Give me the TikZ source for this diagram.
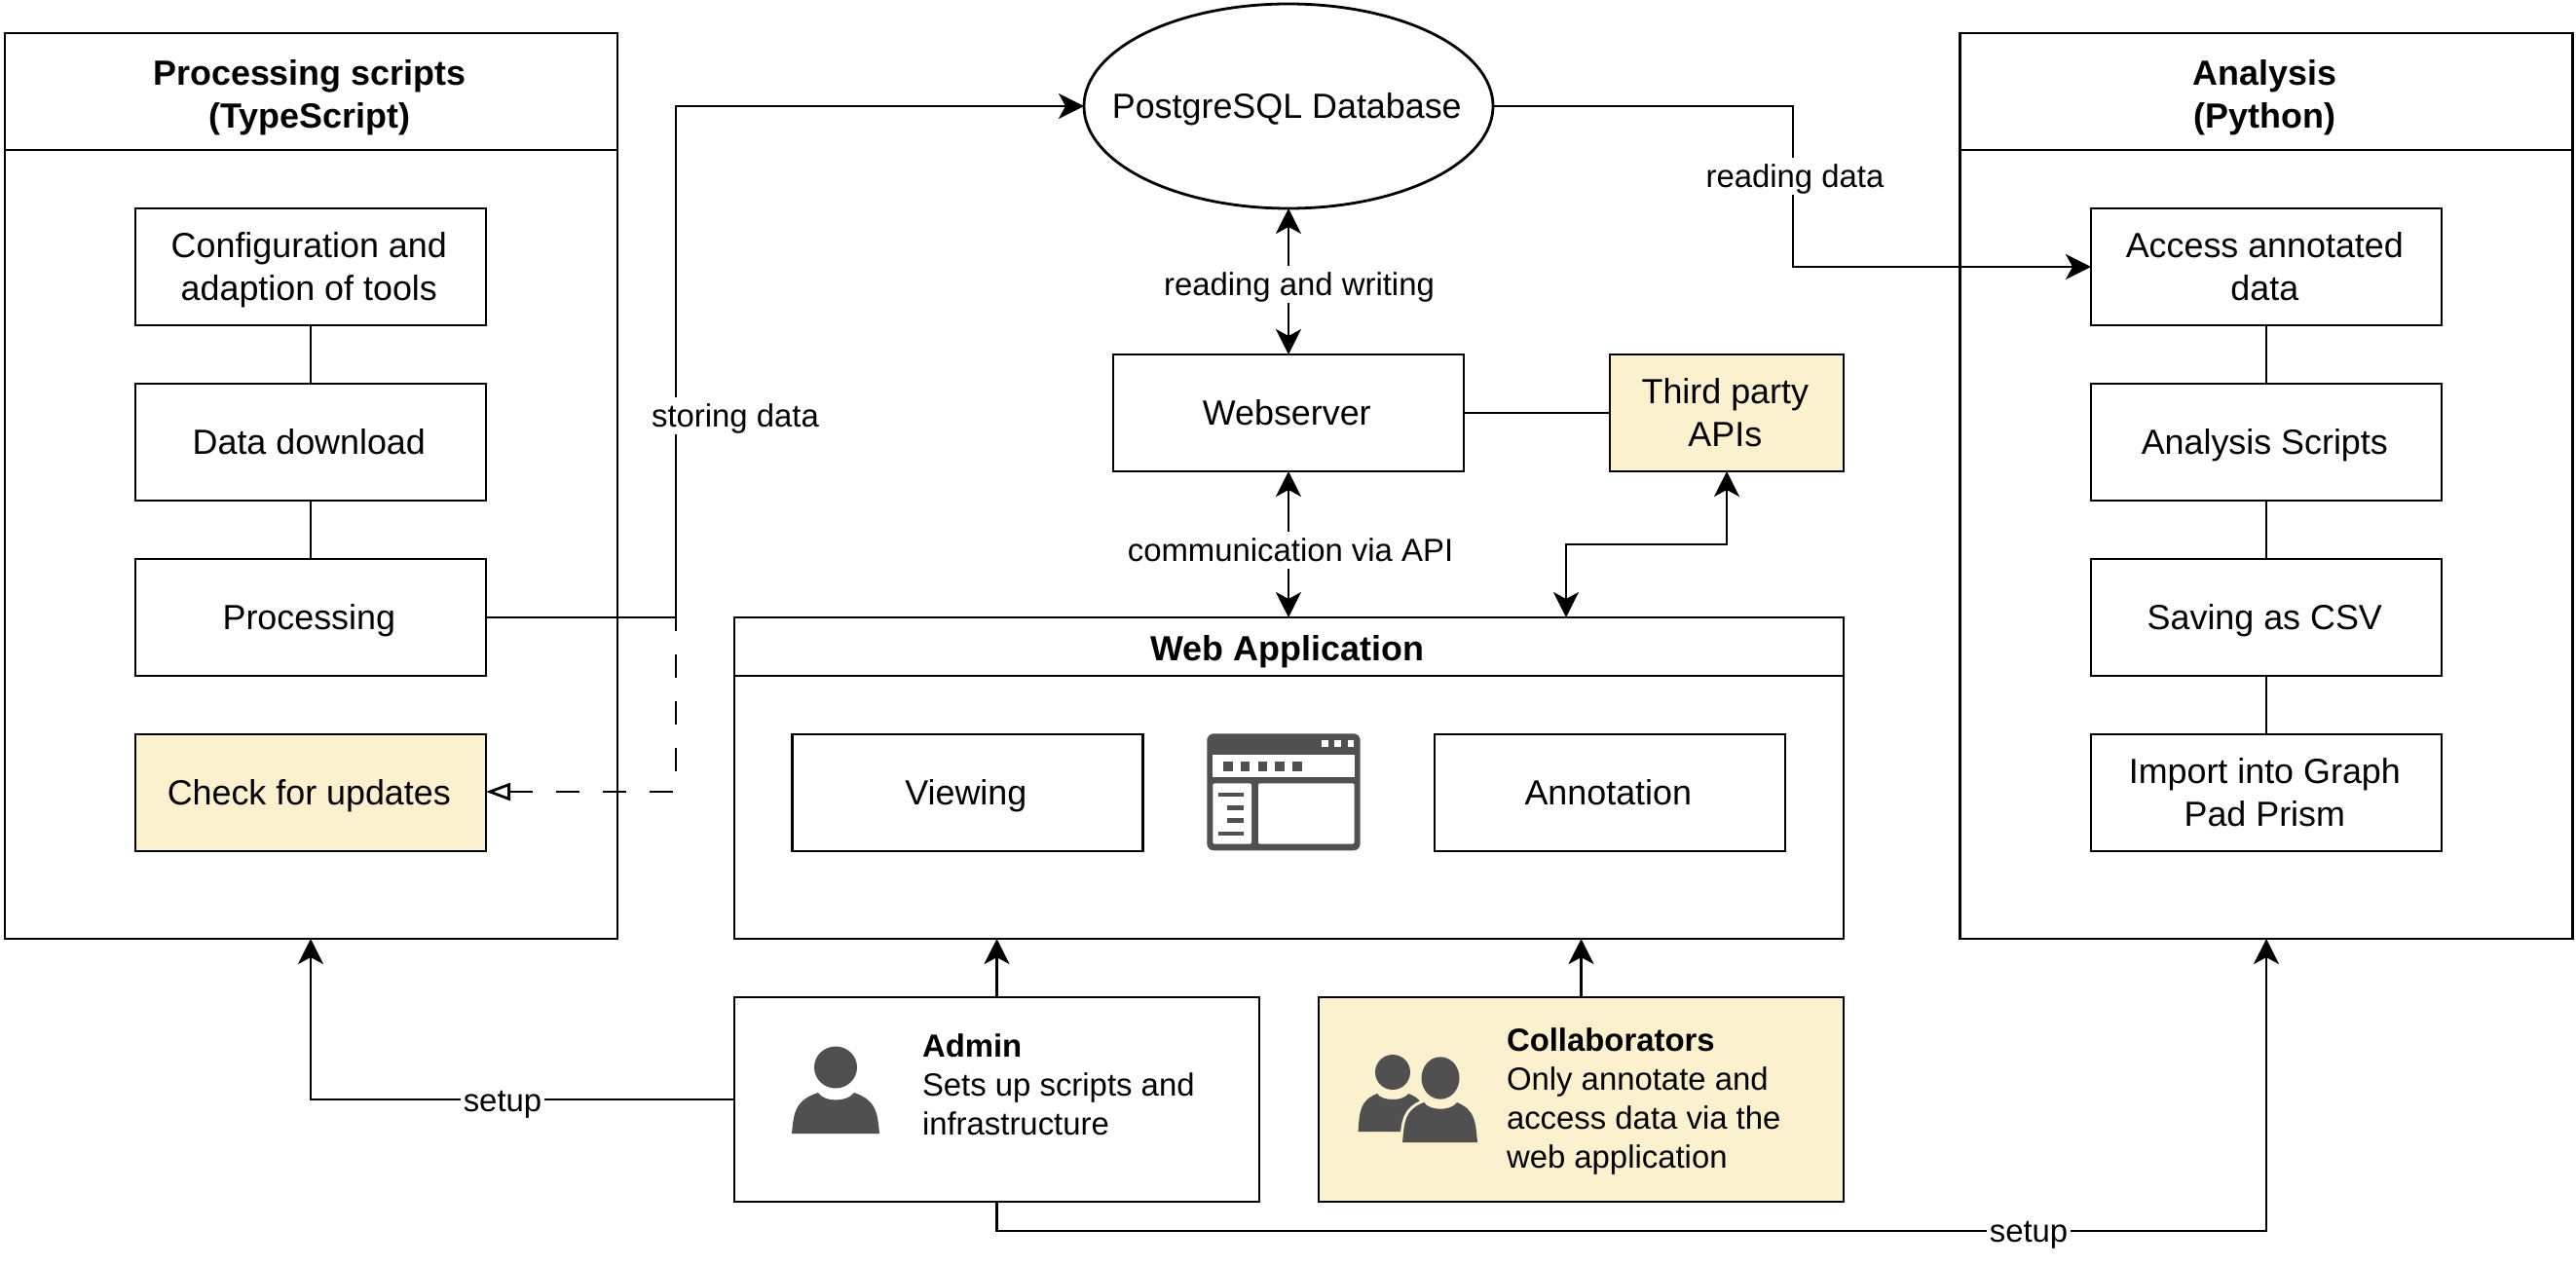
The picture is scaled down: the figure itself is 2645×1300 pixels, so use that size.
\documentclass[tikz,border=0pt]{standalone}
\usepackage{fontspec}
\setmainfont{Liberation Sans}
\usetikzlibrary{shapes.geometric,arrows.meta}
\definecolor{noteyellow}{HTML}{FBF1CE}
\definecolor{icongray}{HTML}{505050}
\newcommand{\bigtxt}{\fontsize{18}{22.4}\selectfont}
\newcommand{\smalltxt}{\fontsize{16.5}{20}\selectfont}
\newcommand{\ts}{\rule[-0.212em]{0pt}{1.117em}}
\newcommand{\tb}{\ts\hspace*{-1.7bp}}
\newcommand{\tbx}[1]{\rule[-0.212em]{0pt}{\dimexpr1.117em+#1\relax}\hspace*{-1.7bp}}
\tikzset{
  x=0.5bp,y=-0.5bp,
  base/.style={draw=black,line width=1.4bp,inner sep=0pt,outer sep=0pt,align=center,font=\bigtxt},
  stepbox/.style={base,fill=white,minimum width=180bp,minimum height=60bp},
  notebox/.style={stepbox,fill=noteyellow},
  frame/.style={base,fill=white,minimum width=314.5bp,minimum height=465bp},
  framehead/.style={base,fill=white,minimum width=314.5bp,minimum height=60bp,font=\bigtxt\bfseries},
  conn/.style={draw=black,line width=1.4bp,line join=miter},
  tip/.style={-{Stealth[length=13bp,width=13bp,inset=3.5bp]}},
  bitip/.style={{Stealth[length=13bp,width=13bp,inset=3.5bp]}-{Stealth[length=13bp,width=13bp,inset=3.5bp]}},
  lab/.style={fill=white,inner xsep=1.5bp,inner ysep=0.5bp,font=\smalltxt,text=black},
  rolebox/.style={base,minimum width=269.5bp,minimum height=105bp},
  roletext/.style={inner sep=0pt,outer sep=0pt,anchor=west,align=left,font=\smalltxt},
  icon/.style={fill=icongray,draw=none},
  hole/.style={fill=white,draw=none},
}
\begin{document}
\begin{tikzpicture}
\useasboundingbox (0,0) rectangle (2645,1300);
\fill[white] (0,0) rectangle (2645,1300);

% left frame
\node[frame] (leftframe) at (319.5,499) {};
\node[framehead] (lefthead) at (319.5,94) {\tbx{3bp}Processing scripts\\\tb (TypeScript)};
\node[stepbox] (conf) at (319,274) {\tb Configuration and\\\tb adaption of tools};
\node[stepbox] (down) at (319,454) {\tb Data download};
\node[stepbox] (proc) at (319,634) {\tb Processing};
\node[notebox] (check) at (319,814) {\tb Check for updates};

% right frame
\node[frame] (rightframe) at (2327,499) {};
\node[framehead] (righthead) at (2327,94) {\tbx{3bp}Analysis\\\tb (Python)};
\node[stepbox] (access) at (2327,274) {\tb Access annotated\\\tb data};
\node[stepbox] (scripts) at (2327,454) {\tb Analysis Scripts};
\node[stepbox] (csv) at (2327,634) {\tb Saving as CSV};
\node[stepbox] (prism) at (2327,814) {\tb Import into Graph\\\tb Pad Prism};

% web application
\node[base,fill=white,minimum width=569.5bp,minimum height=165bp] (web) at (1323.5,799) {};
\node[base,fill=white,minimum width=569.5bp,minimum height=30bp,font=\bigtxt\bfseries] (webhead) at (1323.5,664) {\tbx{2bp}Web Application};
\node[stepbox] (view) at (993.5,814) {\tb Viewing};
\node[stepbox] (anno) at (1653,814) {\tb Annotation};

% centre column
\node[base,ellipse,fill=white,inner xsep=-16bp,minimum width=210bp,minimum height=105bp] (db) at (1323,109) {\tb PostgreSQL Database};
\node[stepbox] (srv) at (1323,424) {\tb Webserver};
\node[notebox,minimum width=120bp] (apis) at (1773,424) {\tb Third party\\\tb APIs};

% people
\node[rolebox,fill=white] (admin) at (1023.5,1129) {};
\node[rolebox,fill=noteyellow] (collab) at (1623.5,1129) {};
\node[roletext] (admintxt) at (947,1114) {\ts\textbf{Admin}\\\ts Sets up scripts and\\\ts infrastructure};
\node[roletext] (collabtxt) at (1547,1128) {\ts\textbf{Collaborators}\\\ts Only annotate and\\\ts access data via the\\\ts web application};

% free points of connectors
\coordinate (storecorner) at (694,634);
\coordinate (dashcorner) at (694,813);
\coordinate (readcorner) at (1841,274);
\coordinate (apibendr) at (1773,559);
\coordinate (apibendl) at (1608,559);
\coordinate (webapi) at (1608,634);
\coordinate (adminup) at (1023.5,964);
\coordinate (collabup) at (1623.5,964);
\coordinate (adminbend) at (1023.5,1264);
\coordinate (rightbend) at (2327,1264);
\coordinate (leftbottom) at (319,964);
\coordinate (rightbottom) at (2327,964);
\coordinate (checkeast) at (499,813);

% connectors
\draw[conn] (conf) -- (down);
\draw[conn] (down) -- (proc);
\draw[conn] (access) -- (scripts);
\draw[conn] (scripts) -- (csv);
\draw[conn] (csv) -- (prism);
\draw[conn] (srv) -- (apis);
\draw[conn,tip] (proc.east) -- (storecorner) |- (db.west);
\draw[conn,dash pattern=on 12bp off 12bp,dash phase=5bp,-{Triangle[open,length=12.5bp,width=9bp,fill=white]}] (storecorner) -- (dashcorner) -- (checkeast);
\draw[conn,tip] (db.east) -| (readcorner) |- (access.west);
\draw[conn,bitip] (db.south) -- (srv.north);
\draw[conn,bitip] (srv.south) -- (srv.south |- webhead.north);
\draw[conn,bitip] (apis.south) -- (apibendr) -- (apibendl) -- (webapi);
\draw[conn,tip] (admin.north) -- (adminup);
\draw[conn,tip] (collab.north) -- (collabup);
\draw[conn,tip] (admin.west) -| (leftbottom);
\draw[conn,tip] (admin.south) -- (adminbend) -- (rightbend) -- (rightbottom);

% connector labels
\node[lab] (l1) at (755,427) {\ts storing data};
\node[lab] (l2) at (1843,181) {\ts reading data};
\node[lab] (l3) at (1334,292) {\ts reading and writing};
\node[lab] (l4) at (1325,565) {\ts communication via API};
\node[lab] (l5) at (516,1130) {\ts setup};
\node[lab] (l6) at (2083,1264) {\ts setup};

% window icon
\fill[icon,rounded corners=3.5bp] (1239.3,753.3) rectangle (1396.7,873.3);
\fill[hole] (1245.3,775.3) rectangle (1390.7,798);
\fill[hole,rounded corners=1bp] (1245.3,804.3) rectangle (1285,866.7);
\fill[hole,rounded corners=1bp] (1292,804.3) rectangle (1390.7,866.7);
\foreach \a in {1357,1370.3,1383.7} \fill[hole] (\a,760.3) rectangle (\a+6.7,767);
\foreach \a in {1256,1273.7,1291.7,1309.3,1327.3} \fill[icon] (\a,782.3) rectangle (\a+9.7,791.7);
\fill[icon] (1251.3,813.7) rectangle (1277,818.3);
\fill[icon] (1260.3,827) rectangle (1277,831.7);
\fill[icon] (1260.3,840.3) rectangle (1277,845);
\fill[icon] (1251.3,853.7) rectangle (1277,858.3);

% admin icon
\fill[icon] (858,1096) ellipse (22 and 21.5);
\fill[icon] (813,1164) .. controls (815,1145) and (815,1130) .. (840,1122)
  .. controls (846,1132) and (870,1132) .. (877,1122)
  .. controls (901,1130) and (901,1145) .. (903,1164) -- cycle;

% collaborators icon
\fill[icon] (1430,1101) ellipse (18 and 18);
\fill[icon] (1394.5,1162) .. controls (1396,1142) and (1396,1130) .. (1414,1123)
  .. controls (1419,1131) and (1441,1131) .. (1446,1123)
  .. controls (1452,1125) and (1456,1128) .. (1459,1132) -- (1459,1162) -- cycle;
\path[draw=noteyellow,line width=3bp,fill=noteyellow] (1440,1173) .. controls (1442,1152) and (1442,1140) .. (1462,1132)
  .. controls (1468,1141) and (1490,1141) .. (1496,1132)
  .. controls (1515,1140) and (1515,1152) .. (1517,1173) -- cycle;
\fill[icon] (1440,1173) .. controls (1442,1152) and (1442,1140) .. (1462,1132)
  .. controls (1468,1141) and (1490,1141) .. (1496,1132)
  .. controls (1515,1140) and (1515,1152) .. (1517,1173) -- cycle;
\fill[icon] (1479,1107) ellipse (19.5 and 21.7);
\end{tikzpicture}
\end{document}
